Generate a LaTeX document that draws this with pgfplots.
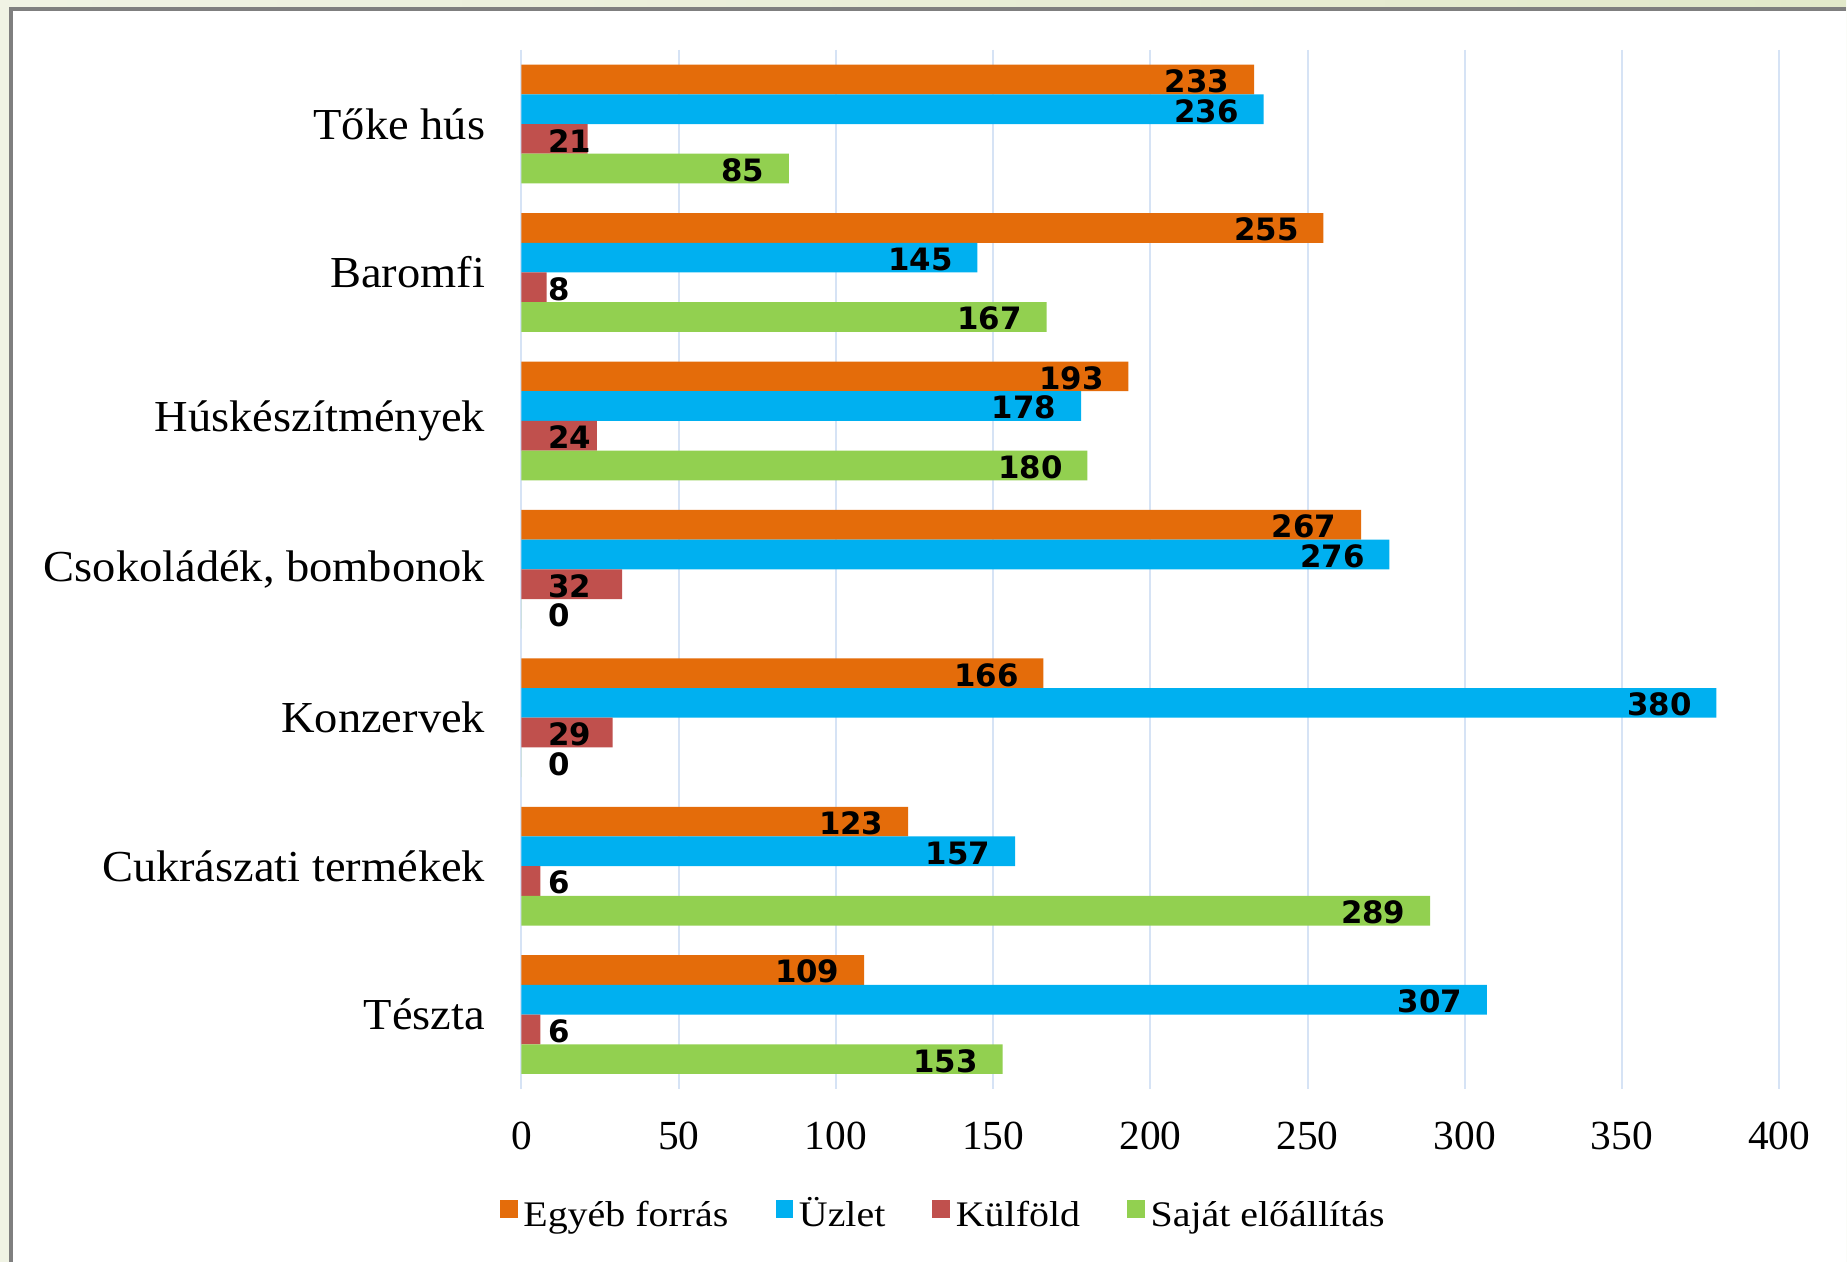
\documentclass[border=0pt]{standalone}
\usepackage{fontspec}
\setmainfont{Liberation Serif}
\newfontfamily\stretchfont{Liberation Serif}[FakeStretch=1.11]
\newfontfamily\catfont{Liberation Serif}[FakeStretch=1.05]
\newfontfamily\lblfont{DejaVu Sans}
\usepackage{pgfplots}
\usepackage{pgfplotstable}
\pgfplotsset{compat=1.18}

\definecolor{cOr}{HTML}{E46C0A}
\definecolor{cBl}{HTML}{00B0F0}
\definecolor{cRd}{HTML}{C0504D}
\definecolor{cGr}{HTML}{92D050}
\definecolor{cGrid}{HTML}{D6E3F5}
\definecolor{cBgL}{RGB}{240,243,228}
\definecolor{cBgR}{RGB}{226,233,202}
\definecolor{cFrame}{HTML}{7F7F7F}

\pgfplotsset{sqleg/.style={legend image code/.code={\fill[##1] (0pt,0.2pt) rectangle (6.2pt,6.4pt);}}}

\pgfplotstableread{
y eg uz ku sa
0 233 236 21 85
1 255 145 8 167
2 193 178 24 180
3 267 276 32 0
4 166 380 29 0
5 123 157 6 289
6 109 307 6 153
}\data

\begin{document}
\begin{tikzpicture}
\shade[left color=cBgL, right color=cBgR] (0pt,0pt) rectangle (646.8pt,442pt);
\fill[white] (3.85pt,0pt) rectangle (646.8pt,438.9pt);
\draw[cFrame, line width=1.3pt] (3.85pt,0pt) -- (3.85pt,438.9pt) -- (646.8pt,438.9pt);
\path[use as bounding box] (0pt,0pt) rectangle (646.8pt,442pt);
\begin{axis}[
  at={(182.7pt,60.55pt)}, anchor=south west,
  scale only axis, width=440.65pt, height=364pt,
  xbar, bar width=0.2,
  xmin=0, xmax=400, ymin=-0.5, ymax=6.5, y dir=reverse,
  xtick={0,50,...,400}, ytick={0,...,6},
  yticklabels={Tőke hús, Baromfi, Húskészítmények, {Csokoládék, bombonok}, Konzervek, Cukrászati termékek, Tészta},
  axis line style={draw=none}, major tick length=0pt,
  xmajorgrids, major grid style={cGrid, line width=0.7pt},
  /pgf/number format/assume math mode=true,
  tick label style={font=\fontsize{14.5}{17}\selectfont},
  yticklabel style={font=\catfont\fontsize{15.5}{18}\selectfont, xshift=-9.2pt},
  xticklabel style={yshift=-8.2pt},
  legend style={at={(0.3368,-0.1247)}, anchor=center, draw=none, fill=none,
    font=\stretchfont\fontsize{12.6}{15}\selectfont,
    nodes={text height=8.6pt, text depth=2.6pt},
    /tikz/every even column/.append style={column sep=14.5pt}},
  legend columns=4,
  every node near coord/.append style={font=\lblfont\fontsize{10.8}{13}\selectfont\bfseries, inner sep=0pt, text=black},
]
\addplot[fill=cOr, draw=none, bar shift=-0.3, sqleg, nodes near coords, point meta=x,
  nodes near coords style={anchor=east, xshift=-8.5pt, yshift=-0.6pt}] table[x=eg, y=y] {\data};
\addlegendentry{Egyéb forrás}
\addplot[fill=cBl, draw=none, bar shift=-0.1, sqleg, nodes near coords, point meta=x,
  nodes near coords style={anchor=east, xshift=-8.5pt, yshift=-0.6pt}] table[x=uz, y=y] {\data};
\addlegendentry{Üzlet}
\addplot[fill=cRd, draw=none, bar shift=0.1, sqleg] table[x=ku, y=y] {\data};
\addlegendentry{Külföld}
\addplot[fill=cGr, draw=none, bar shift=0.3, sqleg] table[x=sa, y=y] {\data};
\addlegendentry{Saját előállítás}
% labels
\addplot[forget plot, draw=none, fill=none, bar shift=0.3, nodes near coords, point meta=x,
  nodes near coords style={anchor=east, xshift=-8.5pt, yshift=-0.6pt}]
  coordinates {(85,0) (167,1) (180,2) (289,5) (153,6)};
\addplot[forget plot, draw=none, fill=none, bar shift=0.3, nodes near coords, point meta=explicit symbolic,
  nodes near coords style={anchor=west, yshift=-0.6pt}]
  coordinates {(8.4,3) [0] (8.4,4) [0]};
\addplot[forget plot, draw=none, fill=none, bar shift=0.1, nodes near coords, point meta=explicit symbolic,
  nodes near coords style={anchor=west, yshift=-0.6pt}]
  coordinates {(8.4,0) [21] (8.4,1) [8] (8.4,2) [24] (8.4,3) [32] (8.4,4) [29] (8.4,5) [6] (8.4,6) [6]};
\end{axis}
\end{tikzpicture}
\end{document}
